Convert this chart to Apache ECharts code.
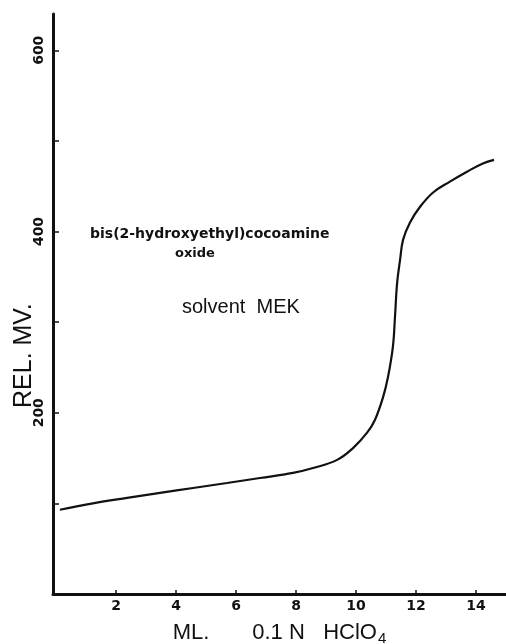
<!DOCTYPE html>
<html>
<head>
<meta charset="utf-8">
<script src="https://cdn.jsdelivr.net/npm/echarts@6/dist/echarts.min.js"></script>
<style>
html,body{margin:0;padding:0;background:#fff;}
#chart{width:506px;height:644px;}
</style>
</head>
<body>
<div id="chart"></div>
<script>
// titrant volume (mL 0.1 N HClO4)
const mlValues = [0.13, 1.23, 2.37, 3.47, 4.57, 5.7, 6.8, 7.9, 8.57, 9.37, 9.9, 10.37, 10.63, 10.9, 11.07, 11.23, 11.3, 11.37, 11.47, 11.57, 11.8, 12.13, 12.57, 13.13, 13.7, 14.23, 14.6];
// relative millivolts
const mvValues = [93, 100, 106, 111.5, 117, 122.5, 128, 133.6, 139, 148, 161, 178, 192, 217, 240, 273, 306, 343, 369, 391, 410, 427, 443, 455, 466, 475, 479];
const xTickValues = [2, 4, 6, 8, 10, 12, 14];
const yTickValues = [100, 200, 300, 400, 500, 600];
const yLabelValues = [200, 400, 600];

const chart = echarts.init(document.getElementById('chart'));
const ink = '#111';
chart.setOption({
  animation: false,
  backgroundColor: '#fff',
  grid: {left: 53, right: 0, top: 14, bottom: 50, containLabel: false, outerBoundsMode: 'none'},
  xAxis: {
    type: 'value', min: -0.1, max: 15,
    axisLine: {lineStyle: {color: ink, width: 3}},
    axisTick: {show: true, inside: true, length: 4, customValues: xTickValues, lineStyle: {color: ink, width: 1.5}},
    axisLabel: {customValues: xTickValues, color: ink, fontFamily: 'DejaVu Sans', fontWeight: 'bold', fontSize: 14, margin: 5},
    splitLine: {show: false},
    name: '{t|ML.       0.1 N   HClO}{s|4}',
    nameLocation: 'middle', nameGap: 28,
    nameTextStyle: {
      rich: {
        t: {fontFamily: 'Liberation Sans', fontSize: 22, color: ink, lineHeight: 24, verticalAlign: 'top'},
        s: {fontFamily: 'Liberation Sans', fontSize: 15, color: ink, lineHeight: 15, padding: [9, 0, 0, 1], verticalAlign: 'top'}
      }
    }
  },
  yAxis: {
    type: 'value', min: 0, max: 640,
    axisLine: {show: true, onZero: false, lineStyle: {color: ink, width: 3}},
    axisTick: {show: true, inside: true, length: 6, customValues: yTickValues, lineStyle: {color: ink, width: 1.5}},
    axisLabel: {customValues: yLabelValues, rotate: 90, color: ink, fontFamily: 'DejaVu Sans', fontWeight: 'bold', fontSize: 14, margin: 7},
    splitLine: {show: false}
  },
  graphic: [
    {type: 'text', left: 90, top: 227, style: {text: 'bis(2-hydroxyethyl)cocoamine', font: 'bold 14px "DejaVu Sans"', fill: ink}},
    {type: 'text', left: 175, top: 247, style: {text: 'oxide', font: 'bold 13px "DejaVu Sans"', fill: ink}},
    {type: 'text', left: 182, top: 297, style: {text: 'solvent  MEK', font: '20px "Liberation Sans"', fill: ink}},
    {type: 'text', x: 12, y: 408, originX: 0, originY: 0, rotation: Math.PI / 2,
      style: {text: 'REL. MV.', font: '25px "Liberation Sans"', fill: ink, align: 'left', verticalAlign: 'top'}}
  ],
  series: [{
    type: 'line',
    data: mlValues.map((v, i) => [v, mvValues[i]]),
    smooth: 0.4,
    showSymbol: false,
    lineStyle: {color: ink, width: 2.2}
  }]
});
</script>
</body>
</html>
